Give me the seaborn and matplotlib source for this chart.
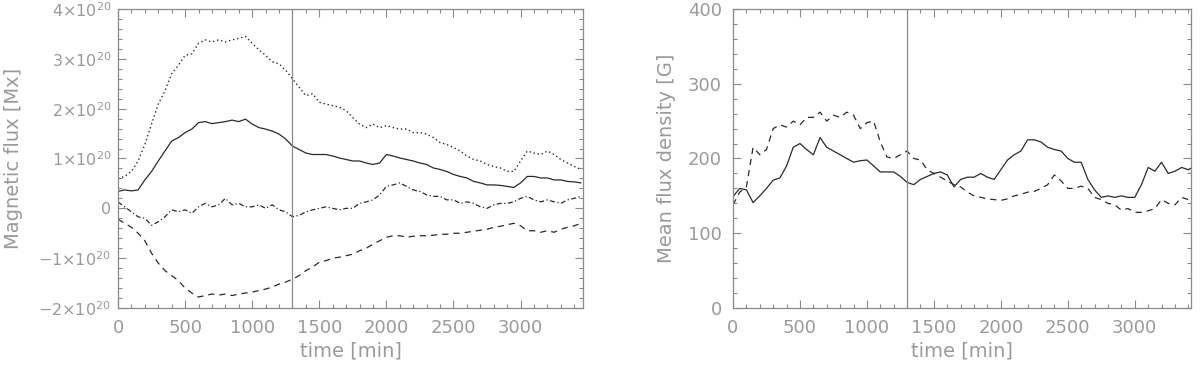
import numpy as np
import pandas as pd
import seaborn as sns
import matplotlib.pyplot as plt
from matplotlib.ticker import MultipleLocator, FuncFormatter

sns.set_style("ticks")
plt.rcParams['font.family'] = ['DejaVu Sans']

# time grid [min], values every 50 min
time = np.arange(0, 3451, 50)

# left panel, units of 1e20 Mx
flux_total = [0.60, 0.64, 0.74, 0.95, 1.28, 1.69, 2.09, 2.36, 2.70, 2.87,
              3.07, 3.10, 3.31, 3.38, 3.34, 3.38, 3.34, 3.38, 3.41, 3.45,
              3.31, 3.18, 3.07, 2.94, 2.90, 2.77, 2.60, 2.43, 2.26, 2.30,
              2.13, 2.09, 2.06, 2.03, 1.96, 1.82, 1.69, 1.62, 1.69, 1.62,
              1.66, 1.62, 1.59, 1.59, 1.52, 1.52, 1.49, 1.42, 1.32, 1.28,
              1.22, 1.15, 1.05, 0.98, 0.95, 0.88, 0.84, 0.81, 0.74, 0.74,
              0.95, 1.15, 1.11, 1.08, 1.15, 1.08, 0.98, 0.91, 0.84, 0.78]
flux_pos = [0.34, 0.37, 0.35, 0.37, 0.57, 0.74, 0.95, 1.15, 1.35, 1.42,
            1.52, 1.59, 1.72, 1.74, 1.70, 1.72, 1.74, 1.77, 1.74, 1.79,
            1.69, 1.62, 1.59, 1.55, 1.49, 1.39, 1.25, 1.18, 1.11, 1.08,
            1.08, 1.08, 1.05, 1.01, 0.98, 0.95, 0.95, 0.91, 0.88, 0.91,
            1.08, 1.05, 1.01, 0.98, 0.95, 0.91, 0.88, 0.81, 0.78, 0.74,
            0.68, 0.64, 0.61, 0.54, 0.51, 0.47, 0.47, 0.46, 0.44, 0.42,
            0.51, 0.64, 0.64, 0.61, 0.61, 0.57, 0.57, 0.54, 0.53, 0.51]
flux_net = [0.13, 0.03, -0.07, -0.17, -0.20, -0.34, -0.27, -0.17, -0.03, -0.07,
            -0.03, -0.10, 0.03, 0.10, 0.03, 0.07, 0.20, 0.07, 0.10, 0.03,
            0.03, 0.07, 0.00, 0.07, -0.03, -0.07, -0.17, -0.14, -0.07, -0.03,
            0.00, 0.03, 0.00, -0.03, 0.00, 0.00, 0.10, 0.13, 0.17, 0.27,
            0.44, 0.47, 0.51, 0.44, 0.37, 0.34, 0.27, 0.24, 0.24, 0.17,
            0.17, 0.10, 0.13, 0.10, 0.03, 0.00, 0.07, 0.10, 0.10, 0.13,
            0.20, 0.24, 0.17, 0.13, 0.17, 0.13, 0.10, 0.17, 0.20, 0.24]
flux_neg = [-0.22, -0.30, -0.38, -0.50, -0.65, -0.90, -1.10, -1.25, -1.35, -1.45,
            -1.60, -1.70, -1.78, -1.75, -1.72, -1.74, -1.72, -1.75, -1.72, -1.70,
            -1.68, -1.65, -1.62, -1.58, -1.52, -1.48, -1.42, -1.35, -1.25, -1.18,
            -1.08, -1.05, -1.00, -0.98, -0.95, -0.92, -0.85, -0.80, -0.72, -0.65,
            -0.58, -0.55, -0.55, -0.58, -0.56, -0.55, -0.55, -0.54, -0.52, -0.52,
            -0.50, -0.50, -0.48, -0.46, -0.44, -0.42, -0.38, -0.36, -0.33, -0.30,
            -0.35, -0.45, -0.45, -0.48, -0.45, -0.48, -0.42, -0.38, -0.35, -0.30]

# right panel, mean flux density [G]
dens_solid = [149, 160, 158, 141, 150, 160, 171, 174, 190, 215,
              220, 212, 205, 228, 215, 210, 205, 200, 195, 197,
              198, 190, 182, 182, 182, 176, 168, 165, 172, 176,
              180, 182, 178, 162, 172, 175, 175, 180, 175, 172,
              185, 198, 205, 210, 225, 225, 222, 215, 212, 210,
              200, 195, 195, 172, 158, 148, 150, 148, 150, 148,
              148, 165, 188, 183, 195, 180, 183, 188, 185, 190]
dens_dash = [138, 155, 162, 215, 205, 212, 240, 245, 242, 250,
             245, 255, 255, 262, 250, 258, 255, 262, 258, 240,
             248, 250, 222, 202, 200, 205, 210, 200, 198, 185,
             180, 175, 170, 165, 162, 155, 150, 148, 146, 145,
             144, 146, 150, 152, 155, 156, 160, 165, 178, 170,
             160, 160, 163, 160, 148, 145, 140, 138, 131, 133,
             128, 128, 130, 133, 145, 140, 138, 148, 145, 140]

t_mark = 1300
line_c = '#2a2a2a'
axis_c = '#8a8a8a'
text_c = '#9a9a9a'

fig = plt.figure(figsize=(12, 3.66), dpi=100)
ax1 = fig.add_axes([118 / 1200, 58 / 366, 465 / 1200, 299 / 366])
ax2 = fig.add_axes([733 / 1200, 58 / 366, 458 / 1200, 299 / 366])

df1 = pd.DataFrame({'t': time, 'tot': np.array(flux_total) * 1e20,
                    'pos': np.array(flux_pos) * 1e20,
                    'net': np.array(flux_net) * 1e20,
                    'neg': np.array(flux_neg) * 1e20})
sns.lineplot(data=df1, x='t', y='tot', ax=ax1, color=line_c, lw=1.0, linestyle=(0, (1, 2)))
sns.lineplot(data=df1, x='t', y='pos', ax=ax1, color=line_c, lw=0.9)
sns.lineplot(data=df1, x='t', y='net', ax=ax1, color=line_c, lw=0.9, linestyle=(0, (4, 2, 1, 2)))
sns.lineplot(data=df1, x='t', y='neg', ax=ax1, color=line_c, lw=0.9, linestyle=(0, (5, 4)))

df2 = pd.DataFrame({'t': time, 'solid': dens_solid, 'dash': dens_dash})
sns.lineplot(data=df2, x='t', y='solid', ax=ax2, color=line_c, lw=0.9)
sns.lineplot(data=df2, x='t', y='dash', ax=ax2, color=line_c, lw=0.9, linestyle=(0, (5, 4)))


def sci_fmt(v, pos):
    n = int(round(v / 1e20))
    if n == 0:
        return '0'
    return r'$%s{\times}10^{20}$' % ('\u2212%d' % abs(n) if n < 0 else '%d' % n)


for ax, xmax in ((ax1, 3465), (ax2, 3420)):
    ax.axvline(t_mark, color='#8a8a8a', lw=0.9)
    ax.set_xlim(0, xmax)
    ax.xaxis.set_major_locator(MultipleLocator(500))
    ax.xaxis.set_minor_locator(MultipleLocator(100))
    ax.tick_params(which='both', direction='in', top=True, right=True,
                   color=axis_c, labelcolor=text_c, labelsize=13, width=0.8)
    ax.tick_params(which='major', length=6, pad=8)
    ax.tick_params(which='minor', length=3)
    for s in ax.spines.values():
        s.set_color(axis_c)
        s.set_linewidth(0.9)
    ax.set_xlabel('time [min]', color=text_c, fontsize=14, labelpad=3)

ax1.set_ylim(-2e20, 4e20)
ax1.yaxis.set_major_locator(MultipleLocator(1e20))
ax1.yaxis.set_minor_locator(MultipleLocator(0.2e20))
ax1.yaxis.set_major_formatter(FuncFormatter(sci_fmt))
ax1.tick_params(axis='y', labelsize=11.5, pad=5)
ax1.set_ylabel('Magnetic flux [Mx]', color=text_c, fontsize=14)
ax1.yaxis.set_label_coords(-0.205, 0.5)

ax2.set_ylim(0, 400)
ax2.yaxis.set_major_locator(MultipleLocator(100))
ax2.yaxis.set_minor_locator(MultipleLocator(20))
ax2.set_ylabel('Mean flux density [G]', color=text_c, fontsize=14)
ax2.yaxis.set_label_coords(-0.125, 0.5)

fig.savefig('out.png', dpi=100)
